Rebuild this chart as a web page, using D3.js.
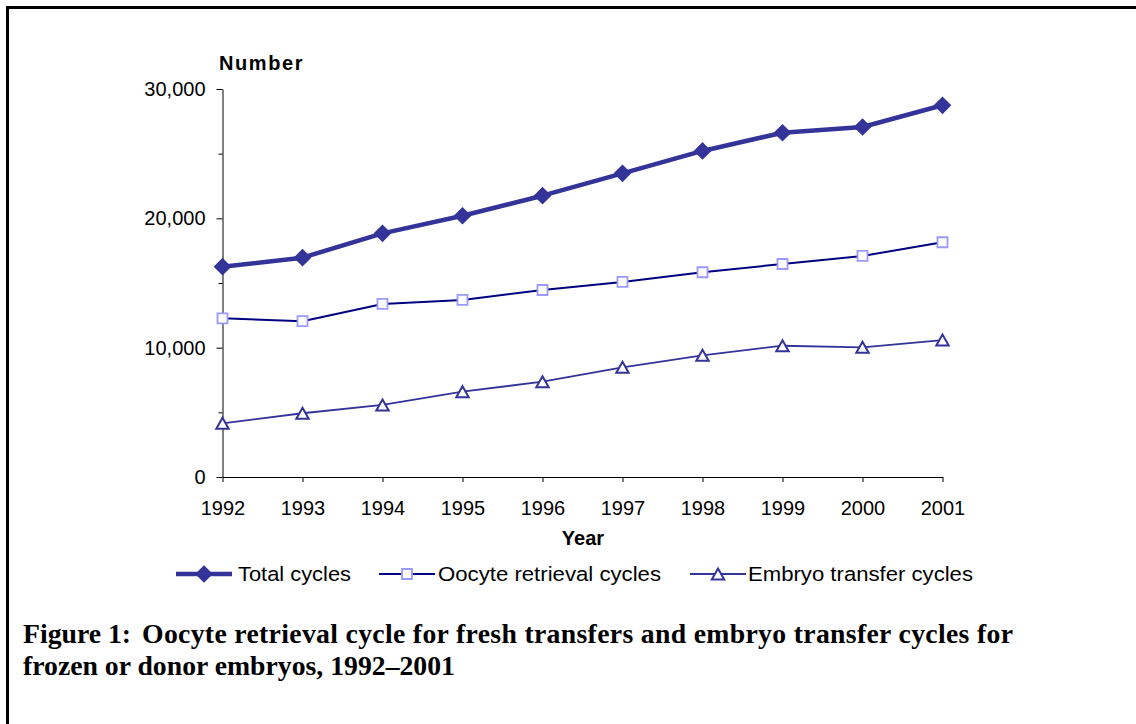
<!DOCTYPE html>
<html><head><meta charset="utf-8">
<script src="https://cdn.jsdelivr.net/npm/d3@7"></script>
<style>body{margin:0;background:#fff}svg{display:block}</style>
</head><body><svg id="c" width="1136" height="724"></svg>
<script>
const years = [1992,1993,1994,1995,1996,1997,1998,1999,2000,2001];
const totalCycles  = [16260,16960,18840,20200,21750,23480,25210,26620,27060,28740];
const oocyteCycles = [12270,12050,13380,13690,14460,15080,15830,16470,17090,18150];
const embryoCycles = [4150,4930,5570,6600,7370,8480,9410,10150,10030,10590];
const yTicks = [0,10000,20000,30000];
const yMinorTicks = [5000,15000,25000];
const seriesNames = ["Total cycles","Oocyte retrieval cycles","Embryo transfer cycles"];
const yTitle = "Number", xTitle = "Year";
const captionLabel = "Figure 1:";
const captionLine1 = "Oocyte retrieval cycle for fresh transfers and embryo transfer cycles for";
const captionLine2 = "frozen or donor embryos, 1992\u20132001";

const svg = d3.select("#c");
const sans = "'Liberation Sans', Arial, sans-serif";
const serif = "'Liberation Serif', 'Times New Roman', serif";

// frame
svg.append("path").attr("d","M7.5,724V7.5H1136").attr("fill","none").attr("stroke","#000").attr("stroke-width",3);

const x = d3.scalePoint().domain(years).range([222.5, 942.5]);
const y = d3.scaleLinear().domain([0,30000]).range([477, 89]);

// minor y ticks
const gMin = svg.append("g").attr("transform","translate(222.5,0)")
  .call(d3.axisLeft(y).tickValues(yMinorTicks).tickSize(4).tickFormat(""));
gMin.select(".domain").remove();
gMin.selectAll("line").attr("stroke","#000");

const gy = svg.append("g").attr("transform","translate(222.5,0)")
  .call(d3.axisLeft(y).tickValues(yTicks).tickSize(6).tickSizeOuter(0).tickPadding(11).tickFormat(d3.format(",")));
gy.selectAll("text").attr("font-family",sans).attr("font-size",20).attr("fill","#000");
gy.selectAll("line,path").attr("stroke","#000");

const gx = svg.append("g").attr("transform","translate(0,477)")
  .call(d3.axisBottom(x).tickSize(5).tickSizeOuter(0).tickPadding(19));
gx.selectAll("text").attr("font-family",sans).attr("font-size",20).attr("fill","#000");
gx.selectAll("line,path").attr("stroke","#000");

svg.append("text").attr("x",219).attr("y",70).attr("font-family",sans).attr("font-weight","bold")
  .attr("font-size",20).attr("letter-spacing","1.6px").text(yTitle);
svg.append("text").attr("x",583).attr("y",545).attr("text-anchor","middle").attr("font-family",sans)
  .attr("font-weight","bold").attr("font-size",20).text(xTitle);

const line = d3.line().x((d,i)=>x(years[i])).y(d=>y(d));
const diamond = d3.symbol().type(d3.symbolSquare).size(156);
const square = d3.symbol().type(d3.symbolSquare).size(100);
const tri = "M0,-5.5L6.2,5.5L-6.2,5.5Z";

const styles = [
  {data: totalCycles, stroke:"#333399", width:4.5},
  {data: oocyteCycles, stroke:"#000080", width:2},
  {data: embryoCycles, stroke:"#333399", width:1.8}
];
styles.forEach(s=>{
  svg.append("path").datum(s.data).attr("d",line).attr("fill","none")
    .attr("stroke",s.stroke).attr("stroke-width",s.width).attr("stroke-linejoin","round");
});
function drawMarker(g, k){
  if(k===0) g.append("path").attr("d",diamond).attr("transform","rotate(45)").attr("fill","#333399");
  else if(k===1) g.append("path").attr("d",square).attr("fill","#fff").attr("stroke","#9999FF").attr("stroke-width",1.8);
  else g.append("path").attr("d",tri).attr("fill","#fff").attr("stroke","#333399").attr("stroke-width",2);
}
styles.forEach((s,k)=>{
  svg.append("g").selectAll("g").data(s.data).join("g")
    .attr("transform",(d,i)=>`translate(${x(years[i])},${y(d)})`)
    .each(function(){ drawMarker(d3.select(this), k); });
});

// legend
const legX = [176, 379, 690];
const legTextX = [238, 438, 748];
const legEnd = [351, 661, 973];
const legY = 574;
seriesNames.forEach((name,k)=>{
  const g = svg.append("g").attr("transform",`translate(${legX[k]},${legY})`);
  g.append("line").attr("x1",0).attr("x2",56).attr("y1",0).attr("y2",0)
    .attr("stroke",styles[k].stroke).attr("stroke-width",styles[k].width);
  const m = g.append("g").attr("transform","translate(28,0)");
  drawMarker(m,k);
  svg.append("text").attr("x",legTextX[k]).attr("y",legY+7).attr("font-family",sans).attr("font-size",20.5)
    .attr("textLength",legEnd[k]-legTextX[k]).attr("lengthAdjust","spacingAndGlyphs").text(name);
});

// caption
const cap = svg.append("g").attr("font-family",serif).attr("font-weight","bold");
const c0 = cap.append("text").attr("x",23).attr("y",643).text(captionLabel);
const c1 = cap.append("text").attr("x",142).attr("y",643).text(captionLine1);
const c2 = cap.append("text").attr("x",23).attr("y",675).text(captionLine2);
cap.attr("font-size",22);
const w2 = c2.node().getComputedTextLength();
const fs = 22*432/w2;
cap.attr("font-size",fs);
c1.attr("textLength",1013-142).attr("lengthAdjust","spacing");
</script></body></html>
